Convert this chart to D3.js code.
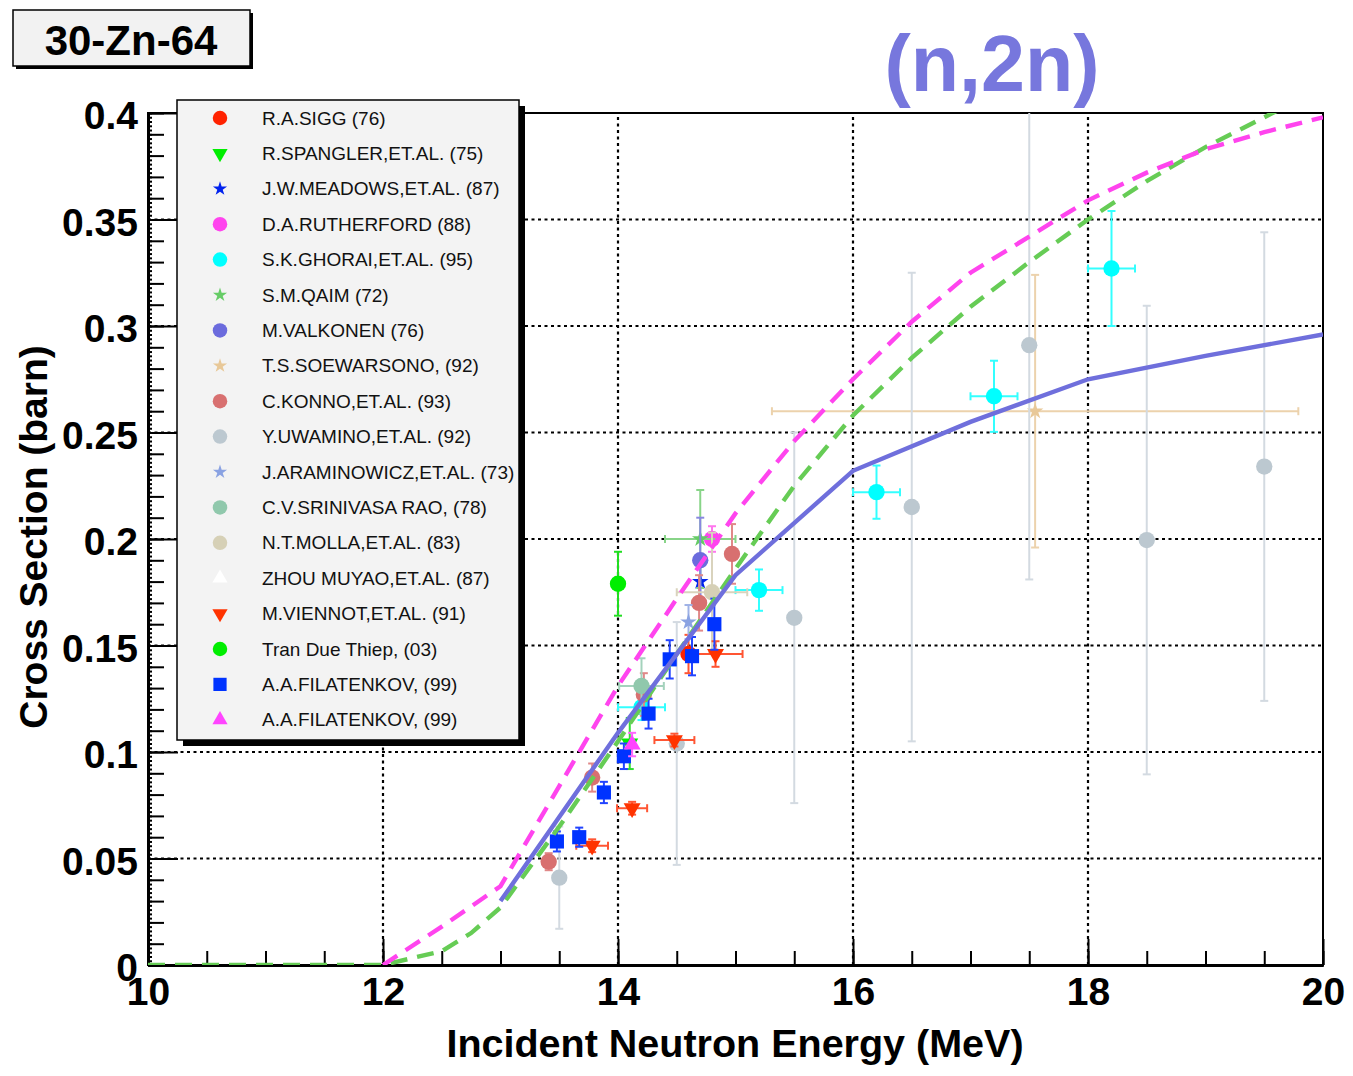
<!DOCTYPE html>
<html>
<head>
<meta charset="utf-8">
<script src="https://cdn.jsdelivr.net/npm/d3@7"></script>
<style>
  body { margin: 0; background: #fff; }
  svg text { font-family: "Liberation Sans", Arial, Helvetica, sans-serif; }
</style>
</head>
<body>
<svg id="chart" width="1353" height="1076"></svg>
<script>
// ---- evaluated curves (energy in MeV, cross section in barn) ----
var blueE = [13, 14, 15, 16, 17, 18, 19, 20];
var blueS = [0.030, 0.109, 0.183, 0.232, 0.255, 0.275, 0.286, 0.296];

var magE = [12, 12.5, 13, 13.5, 14, 14.5, 15, 15.5, 16, 16.5, 17, 17.5, 18, 18.5, 19, 19.5, 20];
var magS = [0, 0.018, 0.037, 0.084, 0.131, 0.172, 0.212, 0.246, 0.275, 0.302, 0.325, 0.342, 0.359, 0.372, 0.383, 0.391, 0.398];

var grnE = [10, 12, 12.5, 12.75, 13, 13.5, 14, 14.5, 15, 15.5, 16, 16.5, 17, 17.5, 18, 18.5, 19, 19.5, 20];
var grnS = [0, 0, 0.0065, 0.015, 0.027, 0.065, 0.105, 0.146, 0.186, 0.225, 0.258, 0.285, 0.309, 0.330, 0.350, 0.368, 0.384, 0.398, 0.412];

// ---- experimental points: [E, sigma, dE, dSigma] ----
var sigg        = [[14.6, 0.146, 0, 0.009]];
var spangler    = [[14.1, 0.104, 0, 0.012]];
var meadows     = [[14.7, 0.180, 0, 0.012]];
var rutherford  = [[14.8, 0.200, 0, 0.006]];
var ghorai      = [[14.2, 0.121, 0.2, 0.006], [15.2, 0.176, 0.2, 0.0097], [16.2, 0.222, 0.2, 0.0125],
                   [17.2, 0.267, 0.2, 0.0167], [18.2, 0.327, 0.2, 0.027]];
var qaim        = [[14.7, 0.200, 0.3, 0.023]];
var valkonen    = [[14.7, 0.190, 0, 0.020]];
var soewarsono  = [[17.55, 0.260, 2.24, 0.064]];
var konno       = [[13.41, 0.0485, 0, 0.004], [13.78, 0.088, 0, 0.0066], [14.22, 0.127, 0, 0.010],
                   [14.69, 0.170, 0, 0.013], [14.97, 0.193, 0, 0.014]];
var uwamino     = [[13.5, 0.041, 0, 0.024], [14.5, 0.104, 0, 0.057], [15.5, 0.163, 0, 0.087],
                   [16.5, 0.215, 0, 0.110], [17.5, 0.291, 0, 0.110], [18.5, 0.1995, 0, 0.110],
                   [19.5, 0.234, 0, 0.110]];
var araminowicz = [[14.6, 0.161, 0, 0.008]];
var rao         = [[14.2, 0.131, 0.19, 0.013]];
var molla       = [[14.8, 0.175, 0.3, 0.028]];
var zhou        = [[14.82, 0.160, 0, 0]];
var viennot     = [[13.78, 0.056, 0.135, 0.003], [14.12, 0.0736, 0.128, 0.003],
                   [14.48, 0.1056, 0.17, 0.003], [14.83, 0.146, 0.23, 0.006]];
var tran        = [[14.0, 0.179, 0, 0.015]];
var filatSq     = [[13.48, 0.058, 0, 0.0047], [13.67, 0.060, 0, 0.0045], [13.88, 0.081, 0, 0.005],
                   [14.05, 0.098, 0, 0.006], [14.26, 0.118, 0, 0.007], [14.44, 0.1435, 0, 0.009],
                   [14.63, 0.145, 0, 0.009], [14.82, 0.160, 0, 0.012]];
var filatTri    = [[14.12, 0.1035, 0, 0.0055]];

var seriesNames = ["R.A.SIGG (76)", "R.SPANGLER,ET.AL. (75)", "J.W.MEADOWS,ET.AL. (87)", "D.A.RUTHERFORD (88)",
  "S.K.GHORAI,ET.AL. (95)", "S.M.QAIM (72)", "M.VALKONEN (76)", "T.S.SOEWARSONO, (92)", "C.KONNO,ET.AL. (93)",
  "Y.UWAMINO,ET.AL. (92)", "J.ARAMINOWICZ,ET.AL. (73)", "C.V.SRINIVASA RAO, (78)", "N.T.MOLLA,ET.AL. (83)",
  "ZHOU MUYAO,ET.AL. (87)", "M.VIENNOT,ET.AL. (91)", "Tran Due Thiep, (03)", "A.A.FILATENKOV, (99)",
  "A.A.FILATENKOV, (99)"];
var seriesData = [sigg, spangler, meadows, rutherford, ghorai, qaim, valkonen, soewarsono, konno,
  uwamino, araminowicz, rao, molla, zhou, viennot, tran, filatSq, filatTri];

// styles
var seriesColors = ["#ff2200", "#00ee00", "#0022ee", "#ff44ee", "#00ffff", "#66cc66", "#6b6bdd", "#e8c898",
  "#d87070", "#bcc8d0", "#8aa2e2", "#90c8ac", "#d6d0b6", "#ffffff", "#ff3300", "#00ee00", "#0033ff", "#ff44ff"];
var barColors = ["#ff5533", "#33dd33", "#3344ee", "#ff77ee", "#33ffff", "#88d488", "#8888e0", "#ecd2ac",
  "#e08888", "#d3dae1", "#9fb2e6", "#a4d2bc", "#d9d3bd", "#ffffff", "#ff5533", "#22dd22", "#2244ff", "#ff66ff"];
var seriesShapes = ["circle", "tdown", "star", "circle", "circle", "star", "circle", "star", "circle",
  "circle", "star", "circle", "circle", "tup", "tdown", "circle", "square", "tup"];

var x = d3.scaleLinear().domain([10, 20]).range([148, 1323]);
var y = d3.scaleLinear().domain([0, 0.4]).range([965, 113]);

var svg = d3.select("#chart");

function symbolFor(shape, big) {
  if (shape === "circle") return d3.symbol().type(d3.symbolCircle).size(big ? 210 : 165)();
  if (shape === "square") return d3.symbol().type(d3.symbolSquare).size(big ? 200 : 175)();
  if (shape === "star") return d3.symbol().type(d3.symbolStar).size(big ? 85 : 62)();
  return d3.symbol().type(d3.symbolTriangle).size(big ? 125 : 100)();
}
function rot(shape) { return shape === "tdown" ? " rotate(180)" : ""; }

// ---- title boxes ----
svg.append("rect").attr("x", 16).attr("y", 13).attr("width", 237).attr("height", 56).attr("fill", "#000");
svg.append("rect").attr("x", 13).attr("y", 10).attr("width", 237).attr("height", 56)
  .attr("fill", "#f2f2f2").attr("stroke", "#000").attr("stroke-width", 1.5);
svg.append("text").attr("x", 131).attr("y", 55).attr("text-anchor", "middle")
  .attr("font-size", 42).attr("font-weight", "bold").text("30-Zn-64");

svg.append("text").attr("x", 992).attr("y", 91).attr("text-anchor", "middle")
  .attr("font-size", 79).attr("font-weight", "bold").attr("fill", "#7777dd").text("(n,2n)");

// ---- frame & grid ----
svg.append("defs").append("clipPath").attr("id", "plotclip")
  .append("rect").attr("x", 148).attr("y", 113).attr("width", 1175).attr("height", 852);

svg.append("rect").attr("x", 148).attr("y", 113).attr("width", 1175).attr("height", 852)
  .attr("fill", "#fff").attr("stroke", "#000").attr("stroke-width", 2);

var grid = svg.append("g").attr("class", "grid");
grid.selectAll(".gx").data(x.ticks(5).filter(function(d) { return d > 10 && d < 20; }))
  .enter().append("line")
  .attr("x1", function(d) { return x(d); }).attr("x2", function(d) { return x(d); })
  .attr("y1", y(0)).attr("y2", y(0.4))
  .attr("stroke", "#000").attr("stroke-width", 2.2).attr("stroke-dasharray", "3,3.5");
grid.selectAll(".gy").data(y.ticks(8).filter(function(d) { return d > 0.001 && d < 0.399; }))
  .enter().append("line")
  .attr("x1", x(10)).attr("x2", x(20))
  .attr("y1", function(d) { return y(d); }).attr("y2", function(d) { return y(d); })
  .attr("stroke", "#000").attr("stroke-width", 2.2).attr("stroke-dasharray", "3,3.5");

// ---- axes ----
var xMajor = d3.axisBottom(x).ticks(5).tickSizeInner(-26).tickSizeOuter(0).tickPadding(12)
  .tickFormat(d3.format("d"));
var xMinor = d3.axisBottom(x).tickValues(d3.range(10, 20.01, 0.5)).tickSizeInner(-14).tickSizeOuter(0)
  .tickFormat("");
var yMajor = d3.axisLeft(y).ticks(8).tickSizeInner(-30).tickSizeOuter(0).tickPadding(10)
  .tickFormat(function(d) { return d === 0 ? "0" : d3.format("")(+d.toFixed(2)); });
var yMinor = d3.axisLeft(y).tickValues(d3.range(0, 0.4001, 0.01)).tickSizeInner(-16).tickSizeOuter(0)
  .tickFormat("");
var yTiny = d3.axisLeft(y).tickValues(d3.range(0, 0.4001, 0.002)).tickSizeInner(-4).tickSizeOuter(0)
  .tickFormat("");

function styleAxis(g, w) {
  g.selectAll("line").attr("stroke", "#000").attr("stroke-width", 2);
  g.select(".domain").attr("stroke", "#000").attr("stroke-width", w);
  g.selectAll("text").attr("font-size", 39).attr("font-weight", "bold").attr("fill", "#000")
    .attr("font-family", "'Liberation Sans', Arial, sans-serif");
}
svg.append("g").attr("transform", "translate(0," + y(0) + ")").call(xMinor).call(styleAxis, 3);
svg.append("g").attr("transform", "translate(0," + y(0) + ")").call(xMajor).call(styleAxis, 3);
svg.append("g").attr("transform", "translate(" + x(10) + ",0)").call(yTiny).call(styleAxis, 3);
svg.append("g").attr("transform", "translate(" + x(10) + ",0)").call(yMinor).call(styleAxis, 3);
svg.append("g").attr("transform", "translate(" + x(10) + ",0)").call(yMajor).call(styleAxis, 3)
  .selectAll("text").attr("dy", "0.4em");

svg.append("text").attr("x", 735).attr("y", 1057).attr("text-anchor", "middle")
  .attr("font-size", 39.5).attr("font-weight", "bold").text("Incident Neutron Energy (MeV)");
svg.append("text").attr("transform", "translate(47,537) rotate(-90)").attr("text-anchor", "middle")
  .attr("font-size", 39).attr("font-weight", "bold").text("Cross Section (barn)");

// ---- data points ----
var plot = svg.append("g").attr("clip-path", "url(#plotclip)");
var cap = 4;
seriesData.forEach(function(pts, i) {
  var g = plot.append("g");
  var c = barColors[i];
  pts.forEach(function(p) {
    var px = x(p[0]), py = y(p[1]);
    if (p[3] > 0) {
      var y1 = y(p[1] - p[3]), y2 = y(p[1] + p[3]);
      g.append("line").attr("x1", px).attr("x2", px).attr("y1", y1).attr("y2", y2)
        .attr("stroke", c).attr("stroke-width", 2);
      [y1, y2].forEach(function(yy) {
        g.append("line").attr("x1", px - cap).attr("x2", px + cap).attr("y1", yy).attr("y2", yy)
          .attr("stroke", c).attr("stroke-width", 2);
      });
    }
    if (p[2] > 0) {
      var x1 = x(p[0] - p[2]), x2 = x(p[0] + p[2]);
      g.append("line").attr("x1", x1).attr("x2", x2).attr("y1", py).attr("y2", py)
        .attr("stroke", c).attr("stroke-width", 2);
      [x1, x2].forEach(function(xx) {
        g.append("line").attr("x1", xx).attr("x2", xx).attr("y1", py - cap).attr("y2", py + cap)
          .attr("stroke", c).attr("stroke-width", 2);
      });
    }
  });
  g.selectAll("path.m").data(pts).enter().append("path").attr("class", "m")
    .attr("d", symbolFor(seriesShapes[i], true))
    .attr("transform", function(p) { return "translate(" + x(p[0]) + "," + y(p[1]) + ")" + rot(seriesShapes[i]); })
    .attr("fill", seriesColors[i]);
});

// ---- curves ----
function curve(es, ss, color, dash) {
  var line = d3.line().x(function(d) { return x(d[0]); }).y(function(d) { return y(d[1]); });
  plot.append("path").datum(d3.zip(es, ss)).attr("d", line)
    .attr("fill", "none").attr("stroke", color).attr("stroke-width", 4.4)
    .attr("stroke-dasharray", dash);
}
curve(grnE, grnS, "#66cc55", "17,10");
curve(magE, magS, "#ff44ee", "17,10");
curve(blueE, blueS, "#6f6fdc", null);

// ---- legend ----
var lg = svg.append("g");
lg.append("rect").attr("x", 183).attr("y", 106).attr("width", 342).attr("height", 640).attr("fill", "#000");
lg.append("rect").attr("x", 177).attr("y", 100).attr("width", 342).attr("height", 640)
  .attr("fill", "#f3f3f3").attr("stroke", "#000").attr("stroke-width", 1.5);
seriesNames.forEach(function(name, i) {
  var ly = 118 + i * 35.4;
  lg.append("path").attr("d", symbolFor(seriesShapes[i], false))
    .attr("transform", "translate(220," + ly + ")" + rot(seriesShapes[i]))
    .attr("fill", seriesColors[i]);
  lg.append("text").attr("x", 262).attr("y", ly + 6.5).attr("font-size", 19).attr("fill", "#111")
    .text(name);
});
</script>
</body>
</html>
